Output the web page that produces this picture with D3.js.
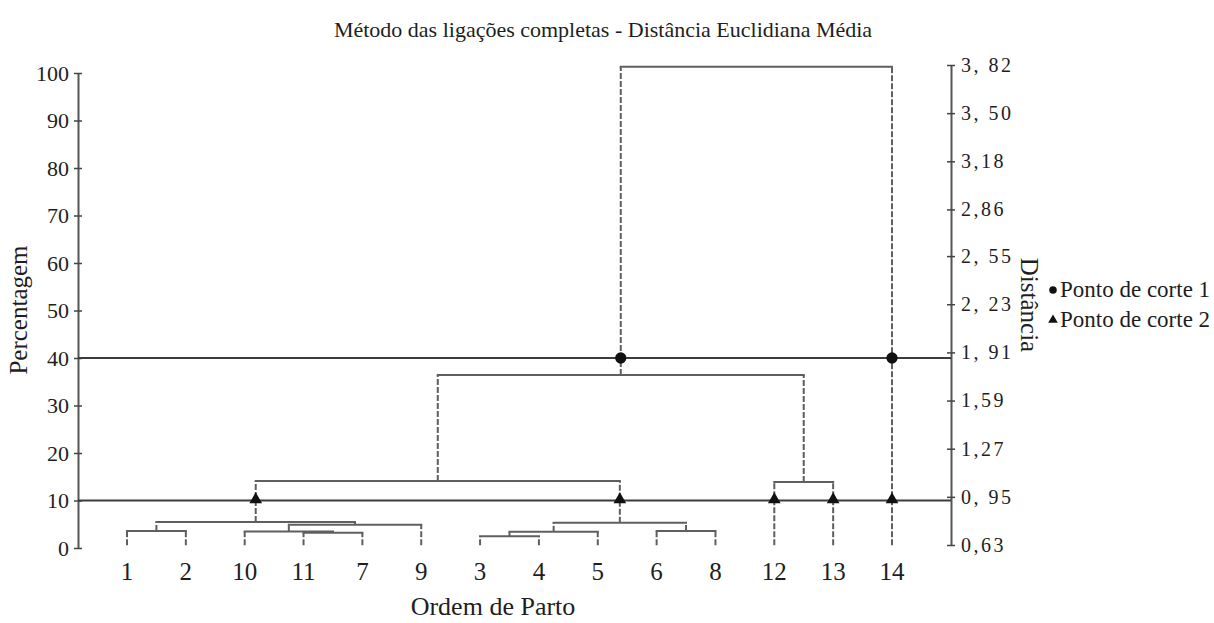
<!DOCTYPE html>
<html>
<head>
<meta charset="utf-8">
<script src="https://cdn.jsdelivr.net/npm/d3@7"></script>
<style>
  html, body { margin: 0; padding: 0; background: #fff; }
  svg text { font-family: "Liberation Serif", "Times New Roman", serif; fill: #1e1e1e; }
</style>
</head>
<body>
<svg id="chart" width="1214" height="623"></svg>
<script>
// ---- data ----
const leafLabels = ["1", "2", "10", "11", "7", "9", "3", "4", "5", "6", "8", "12", "13", "14"];
const leafHeight = 0.6; // percent, where leaf stems start
// merges: [left child, right child, height in %]; cluster i gets id "c"+i
const merges = [
  ["11", "7", 3.2],
  ["10", "c0", 3.5],
  ["c1", "9", 4.9],
  ["1", "2", 3.6],
  ["c3", "c2", 5.5],
  ["3", "4", 2.5],
  ["c5", "5", 3.4],
  ["6", "8", 3.6],
  ["c6", "c7", 5.3],
  ["c4", "c8", 14.1],
  ["12", "13", 13.9],
  ["c9", "c10", 36.4],
  ["c11", "14", 101.3]
];
const leftTicks = [0, 10, 20, 30, 40, 50, 60, 70, 80, 90, 100];
const rightTickValues = [0.63, 0.95, 1.27, 1.59, 1.91, 2.23, 2.55, 2.86, 3.18, 3.50, 3.82];
const rightTickLabels = ["0,63", "0, 95", "1,27", "1,59", "1, 91", "2, 23", "2, 55", "2,86", "3,18", "3, 50", "3, 82"];
const cutPercents = [40, 10];
const cutSymbols = ["circle", "triangle"];
const legendLabels = ["Ponto de corte 1", "Ponto de corte 2"];
const titleText = "Método das ligações completas - Distância Euclidiana Média";
const xTitle = "Ordem de Parto";
const yLeftTitle = "Percentagem";
const yRightTitle = "Distância";

// ---- scales ----
const svg = d3.select("#chart");
const x = d3.scalePoint().domain(leafLabels).range([127, 892]);
const y = d3.scaleLinear().domain([0, 100]).range([548, 73]);
const yR = d3.scaleLinear().domain([0.63, 3.82]).range([545, 65]);
const axisLeftX = 78, axisRightX = 951;

const lineCol = "#5f5f5f";

// ---- axes ----
const gL = svg.append("g").attr("transform", `translate(${axisLeftX},0)`)
  .call(d3.axisLeft(y).tickValues(leftTicks).tickSize(4).tickPadding(5).tickSizeOuter(0));
gL.select(".domain").attr("stroke", "#555").attr("stroke-width", 2);
gL.selectAll(".tick line").attr("x1", -4).attr("x2", 4).attr("stroke", "#444").attr("stroke-width", 1.5);
gL.selectAll(".tick text").attr("font-size", 22).attr("font-family", "Liberation Serif").attr("fill", "#1e1e1e");

const gR = svg.append("g").attr("transform", `translate(${axisRightX},0)`)
  .call(d3.axisRight(yR).tickValues(rightTickValues).tickFormat((d, i) => rightTickLabels[i]).tickSize(4).tickPadding(6).tickSizeOuter(0));
gR.select(".domain").attr("stroke", "#555").attr("stroke-width", 2);
gR.selectAll(".tick line").attr("x1", -4).attr("x2", 4).attr("stroke", "#444").attr("stroke-width", 1.5);
gR.selectAll(".tick text").attr("font-size", 20).attr("letter-spacing", "2.5px").attr("font-family", "Liberation Serif").attr("fill", "#1e1e1e");

// ---- cut lines ----
svg.append("g").selectAll("line").data(cutPercents).join("line")
  .attr("x1", axisLeftX).attr("x2", axisRightX)
  .attr("y1", d => y(d)).attr("y2", d => y(d))
  .attr("stroke", "#3c3c3c").attr("stroke-width", 2);

// ---- dendrogram ----
const nodes = {};
leafLabels.forEach(l => { nodes[l] = { id: l, x: x(l), h: leafHeight, parent: null }; });
merges.forEach((m, i) => {
  const a = nodes[m[0]], b = nodes[m[1]];
  const n = { id: "c" + i, x: (a.x + b.x) / 2, h: m[2], a, b, parent: null };
  a.parent = n; b.parent = n;
  nodes[n.id] = n;
});
const clusters = merges.map((m, i) => nodes["c" + i]);
const gD = svg.append("g");
// vertical stems (dashed)
clusters.forEach(n => {
  [n.a, n.b].forEach(c => {
    gD.append("line")
      .attr("x1", c.x).attr("x2", c.x)
      .attr("y1", y(c.h)).attr("y2", y(n.h))
      .attr("stroke", lineCol).attr("stroke-width", 2)
      .attr("stroke-dasharray", "6,2");
  });
});
// horizontal bars (solid)
gD.selectAll("line.bar").data(clusters).join("line").attr("class", "bar")
  .attr("x1", d => d.a.x - 1).attr("x2", d => d.b.x + 1)
  .attr("y1", d => y(d.h)).attr("y2", d => y(d.h))
  .attr("stroke", lineCol).attr("stroke-width", 2);

// ---- cut markers ----
const allNodes = Object.values(nodes);
cutPercents.forEach((c, ci) => {
  const hits = allNodes.filter(n => n.parent && n.h < c && n.parent.h > c);
  const sym = cutSymbols[ci] === "circle" ? d3.symbolCircle : d3.symbolTriangle;
  const size = cutSymbols[ci] === "circle" ? 100 : 70;
  svg.append("g").selectAll("path").data(hits).join("path")
    .attr("d", d3.symbol().type(sym).size(size))
    .attr("transform", d => `translate(${d.x},${y(c) + (ci === 1 ? -1 : 0)})`)
    .attr("fill", "#111");
});

// ---- x labels ----
svg.append("g").selectAll("text").data(leafLabels).join("text")
  .attr("x", d => x(d)).attr("y", 580)
  .attr("text-anchor", "middle").attr("font-size", 25)
  .text(d => d);

// ---- titles ----
svg.append("text").attr("x", 603).attr("y", 37).attr("text-anchor", "middle")
  .attr("font-size", 22).text(titleText);
svg.append("text").attr("x", 493).attr("y", 615).attr("text-anchor", "middle")
  .attr("font-size", 26).text(xTitle);
svg.append("text").attr("transform", "translate(27,310) rotate(-90)").attr("text-anchor", "middle")
  .attr("font-size", 25).text(yLeftTitle);
svg.append("text").attr("transform", "translate(1021,305) rotate(90)").attr("text-anchor", "middle")
  .attr("font-size", 25).text(yRightTitle);

// ---- legend ----
const lg = svg.append("g").selectAll("g").data(legendLabels).join("g")
  .attr("transform", (d, i) => `translate(1053,${290 + i * 30})`);
lg.append("path")
  .attr("d", (d, i) => d3.symbol().type(cutSymbols[i] === "circle" ? d3.symbolCircle : d3.symbolTriangle).size(cutSymbols[i] === "circle" ? 45 : 40)())
  .attr("fill", "#111");
lg.append("text").attr("x", 7).attr("y", 7).attr("font-size", 23).text(d => d);
</script>
</body>
</html>
